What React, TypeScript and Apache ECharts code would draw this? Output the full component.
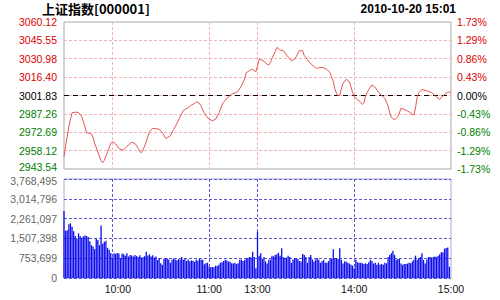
import React, { useEffect, useRef } from "react";
import * as echarts from "echarts";

// ---------- data ----------
const titleText = "上证指数[000001]";
const dateText = "2010-10-20 15:01";
const baseClose = 3001.83;

const priceTicks = [2943.54, 2958.12, 2972.69, 2987.26, 3001.83, 3016.4, 3030.98, 3045.55, 3060.12];
const priceLabels = ["2943.54", "2958.12", "2972.69", "2987.26", "3001.83", "3016.40", "3030.98", "3045.55", "3060.12"];
const percentLabels = ["-1.73%", "-1.29%", "-0.86%", "-0.43%", "0.00%", "0.43%", "0.86%", "1.29%", "1.73%"];

const timeTickMinutes = [30, 90, 120, 180, 240];
const timeTickLabels = ["10:00", "11:00", "13:00", "14:00", "15:00"];

const volumeMax = 3768495;
const volumeStep = 753699;

// minutes since 09:30 (11:30 and 13:00 share minute 120)
const lineMinutes = [
  0, 1, 3, 5, 7, 9, 11, 13, 14, 16, 17, 18, 19, 21, 23, 24, 25, 27, 29, 30,
  32, 34, 36, 37, 39, 40, 42, 44, 46, 47, 48, 49, 51, 53, 55, 57, 59, 61, 63, 64,
  66, 68, 69, 72, 74, 75, 77, 79, 81, 82, 84, 85, 86, 88, 90, 92, 94, 96, 98, 99,
  101, 103, 104, 106, 107, 108, 110, 112, 113, 115, 116, 117, 118, 119, 120, 121, 122, 124, 126, 127,
  128, 129, 131, 132, 133, 134, 136, 138, 140, 141, 143, 145, 146, 148, 149, 150, 152, 154, 156, 157,
  158, 160, 162, 163, 165, 167, 168, 169, 170, 171, 172, 173, 175, 177, 178, 179, 180, 182, 184, 185,
  186, 187, 189, 191, 193, 195, 196, 198, 199, 200, 201, 202, 203, 205, 207, 208, 209, 211, 213, 215,
  216, 217, 218, 219, 220, 222, 225, 228, 230, 231, 233, 235, 237, 239, 240,
];
const linePrices = [
  2953.3, 2962.0, 2977.1, 2988.2, 2988.6, 2988.4, 2985.0, 2977.1, 2972.3, 2971.8, 2971.3, 2968.5, 2964.0, 2957.0, 2950.0, 2948.5, 2950.5, 2957.0, 2964.0, 2965.2,
  2963.5, 2959.9, 2958.6, 2958.8, 2961.5, 2962.6, 2964.7, 2963.9, 2960.0, 2957.3, 2956.5, 2958.5, 2965.2, 2973.1, 2975.8, 2975.6, 2975.0, 2972.5, 2967.9, 2968.5,
  2969.9, 2975.0, 2977.1, 2985.0, 2990.0, 2990.8, 2992.1, 2994.3, 2995.5, 2996.9, 2995.6, 2993.5, 2990.3, 2985.8, 2983.0, 2981.8, 2983.0, 2987.7, 2994.3, 2996.5,
  2999.6, 3001.8, 3003.0, 3003.9, 3004.1, 3005.5, 3009.4, 3015.0, 3019.9, 3021.5, 3022.6, 3022.3, 3021.5, 3020.7, 3025.0, 3030.5, 3030.2, 3029.0, 3026.5, 3026.0,
  3028.0, 3031.3, 3036.6, 3040.0, 3039.0, 3037.9, 3037.4, 3033.9, 3031.0, 3029.4, 3030.5, 3035.0, 3037.4, 3037.4, 3033.5, 3032.0, 3028.3, 3026.0, 3024.0, 3023.4,
  3023.8, 3024.2, 3023.2, 3022.6, 3019.9, 3012.8, 3007.0, 3003.6, 3001.4, 3002.2, 3007.0, 3011.5, 3014.7, 3012.8, 3008.5, 3004.0, 3000.9, 2998.5, 2996.5, 2994.8,
  2996.0, 3001.4, 3006.7, 3010.2, 3008.3, 3004.5, 3003.0, 3000.8, 2999.6, 2996.5, 2993.5, 2988.0, 2984.5, 2982.4, 2985.0, 2988.0, 2991.7, 2990.9, 2989.5, 2988.2,
  2986.8, 2986.3, 2992.0, 3000.4, 3004.0, 3006.7, 3005.6, 3004.1, 3002.0, 3000.4, 2998.8, 3001.4, 3003.6, 3004.8, 3003.6,
];

// one volume bar per minute, index = minutes since 09:30
const volumes = [
  2550000, 1800000, 1820000, 2050000, 2080000, 1950000, 1780000, 1600000, 1480000, 1700000,
  1600000, 1530000, 1580000, 1620000, 1600000, 1560000, 1400000, 1250000, 1200000, 1100000,
  1500000, 1450000, 1250000, 2000000, 1300000, 1380000, 1420000, 1150000, 1080000, 950000,
  780000, 940000, 920000, 950000, 930000, 760000, 930000, 900000, 850000, 940000,
  820000, 880000, 860000, 820000, 880000, 840000, 800000, 870000, 780000, 800000,
  830000, 1000000, 860000, 900000, 820000, 870000, 780000, 820000, 690000, 760000,
  560000, 500000, 720000, 760000, 740000, 700000, 580000, 690000, 740000, 700000,
  680000, 720000, 700000, 800000, 690000, 720000, 650000, 700000, 640000, 670000,
  660000, 620000, 700000, 660000, 740000, 690000, 690000, 520000, 560000, 580000,
  430000, 410000, 420000, 410000, 470000, 460000, 500000, 580000, 600000, 650000,
  690000, 670000, 630000, 620000, 560000, 550000, 580000, 530000, 560000, 690000,
  700000, 650000, 680000, 740000, 760000, 800000, 780000, 1000000, 800000, 370000,
  1760000, 850000, 940000, 720000, 800000, 630000, 550000, 690000, 700000, 850000,
  820000, 880000, 900000, 960000, 850000, 1130000, 800000, 760000, 780000, 850000,
  800000, 580000, 700000, 760000, 740000, 720000, 650000, 630000, 910000, 880000,
  800000, 580000, 800000, 880000, 700000, 630000, 700000, 760000, 690000, 580000,
  640000, 690000, 580000, 580000, 640000, 720000, 720000, 1090000, 760000, 760000,
  720000, 1130000, 690000, 550000, 630000, 630000, 580000, 550000, 500000, 470000,
  370000, 690000, 600000, 580000, 580000, 560000, 530000, 560000, 530000, 600000,
  690000, 650000, 550000, 580000, 500000, 580000, 500000, 530000, 500000, 580000,
  560000, 800000, 880000, 940000, 1040000, 880000, 690000, 720000, 720000, 550000,
  500000, 530000, 530000, 550000, 580000, 560000, 630000, 690000, 850000, 690000,
  760000, 800000, 940000, 690000, 550000, 700000, 800000, 800000, 780000, 800000,
  820000, 800000, 850000, 900000, 980000, 980000, 1120000, 1140000, 1160000, 430000,
];

// ---------- styles ----------
const RED = "#dd0000";
const GREEN = "#008000";
const FONT = "Liberation Sans, Arial, sans-serif";
const LABEL_SIZE = 10.5;

function priceColor(v: any) {
  const n = Number(v);
  if (n > baseClose + 0.005) return RED;
  if (n < baseClose - 0.005) return GREEN;
  return "#000000";
}
function nearestIndex(v: any) {
  const n = Number(v);
  let best = 0;
  for (let i = 1; i < priceTicks.length; i++) {
    if (Math.abs(priceTicks[i] - n) < Math.abs(priceTicks[best] - n)) best = i;
  }
  return best;
}

export default function App() {
  const ref = useRef<HTMLDivElement>(null);
  useEffect(() => {
    if (!ref.current) return;
    const chart = echarts.init(ref.current, null, { renderer: "svg" });
    const innerPriceTicks = priceTicks.slice(1, priceTicks.length - 1);
    const lineData = lineMinutes.map((m, i) => [m, linePrices[i]]);
    const volData = volumes.map((v, i) => [i, v]);

    chart.setOption({
      animation: false,
      backgroundColor: "#ffffff",
      graphic: [
        {
          type: "text",
          left: 42,
          top: 2,
          style: { text: titleText, fontSize: 13, fontWeight: "bold", fill: "#000", fontFamily: "Noto Sans CJK SC, sans-serif" },
        },
        {
          type: "text",
          right: 44,
          top: 3,
          style: { text: dateText, fontSize: 12, fontWeight: "bold", fill: "#000", fontFamily: FONT },
        },
      ],
      grid: [
        { left: 64, top: 22, width: 387, height: 147, show: true, borderColor: "#a8a8a8", borderWidth: 1, backgroundColor: "transparent" },
        { left: 64, top: 179, width: 387, height: 99, show: true, borderColor: "#a8a8dc", borderWidth: 1, backgroundColor: "transparent" },
      ],
      xAxis: [
        {
          type: "value",
          gridIndex: 0,
          min: 0,
          max: 240,
          axisLine: { show: false },
          axisTick: { show: false, customValues: timeTickMinutes.slice(0, 4) },
          axisLabel: { show: false },
          splitLine: { show: true, lineStyle: { color: "#f0b4b4", type: [3, 2], width: 1 } },
        },
        {
          type: "value",
          gridIndex: 1,
          min: 0,
          max: 240,
          axisLine: { show: false },
          axisTick: { show: false, customValues: timeTickMinutes.slice(0, 4) },
          axisLabel: {
            show: true,
            customValues: timeTickMinutes,
            margin: 5,
            fontSize: LABEL_SIZE,
            fontFamily: FONT,
            color: "#111",
            formatter: (v: any) => {
              const i = timeTickMinutes.indexOf(Math.round(Number(v)));
              const t = i >= 0 ? timeTickLabels[i] : "";
              return i === 0 ? "{a|" + t + "}" : t;
            },
            rich: { a: { padding: [0, 0, 0, 11], fontSize: LABEL_SIZE, fontFamily: FONT, color: "#111" } },
          },
          splitLine: { show: true, lineStyle: { color: "#5a5ad2", type: [3, 2], width: 1 } },
        },
      ],
      yAxis: [
        {
          type: "value",
          gridIndex: 0,
          position: "left",
          min: priceTicks[0],
          max: priceTicks[priceTicks.length - 1],
          axisLine: { show: false },
          axisTick: { show: false, customValues: innerPriceTicks },
          axisLabel: {
            customValues: priceTicks,
            margin: 7,
            fontSize: LABEL_SIZE,
            fontFamily: FONT,
            color: (v: any) => priceColor(v),
            formatter: (v: any) => {
              const i = nearestIndex(v);
              return i === 0 ? "{low|" + priceLabels[i] + "}" : priceLabels[i];
            },
            rich: { low: { padding: [0, 0, 4, 0], fontSize: LABEL_SIZE, fontFamily: FONT, color: GREEN } },
          },
          splitLine: { show: true, lineStyle: { color: "#f0b4b4", type: [3, 2], width: 1 } },
        },
        {
          type: "value",
          gridIndex: 0,
          position: "right",
          min: priceTicks[0],
          max: priceTicks[priceTicks.length - 1],
          axisLine: { show: false },
          axisTick: { show: false, customValues: innerPriceTicks },
          axisLabel: {
            customValues: priceTicks,
            margin: 6,
            fontSize: LABEL_SIZE,
            fontFamily: FONT,
            color: (v: any) => priceColor(v),
            formatter: (v: any) => percentLabels[nearestIndex(v)],
          },
          splitLine: { show: false },
        },
        {
          type: "value",
          gridIndex: 1,
          min: 0,
          max: volumeMax,
          interval: volumeStep,
          axisLine: { show: false },
          axisTick: { show: false },
          axisLabel: {
            margin: 7,
            fontSize: LABEL_SIZE,
            fontFamily: FONT,
            color: "#666666",
            formatter: (v: any) => {
              const s = Number(v).toLocaleString("en-US");
              return Number(v) >= volumeMax ? "{top|" + s + "}" : s;
            },
            rich: { top: { padding: [4, 0, 0, 0], fontSize: LABEL_SIZE, fontFamily: FONT, color: "#666666" } },
          },
          splitLine: { show: true, lineStyle: { color: "#5a5ad2", type: [3, 2], width: 1 } },
        },
      ],
      series: [
        {
          type: "line",
          xAxisIndex: 0,
          yAxisIndex: 0,
          data: lineData,
          showSymbol: false,
          symbol: "none",
          lineStyle: { color: "#e65555", width: 1 },
          markLine: {
            silent: true,
            symbol: ["none", "none"],
            label: { show: false },
            lineStyle: { color: "#000", type: [5, 4], width: 1.2 },
            data: [{ yAxis: baseClose }],
          },
          z: 5,
        },
        {
          type: "bar",
          xAxisIndex: 1,
          yAxisIndex: 2,
          data: volData,
          barWidth: 1.3,
          itemStyle: { color: "#0c0cee" },
          z: 5,
        },
      ],
    });
    return () => chart.dispose();
  }, []);
  return <div ref={ref} style={{ position: "absolute", left: 0, top: 0, width: 500, height: 300 }} />;
}
